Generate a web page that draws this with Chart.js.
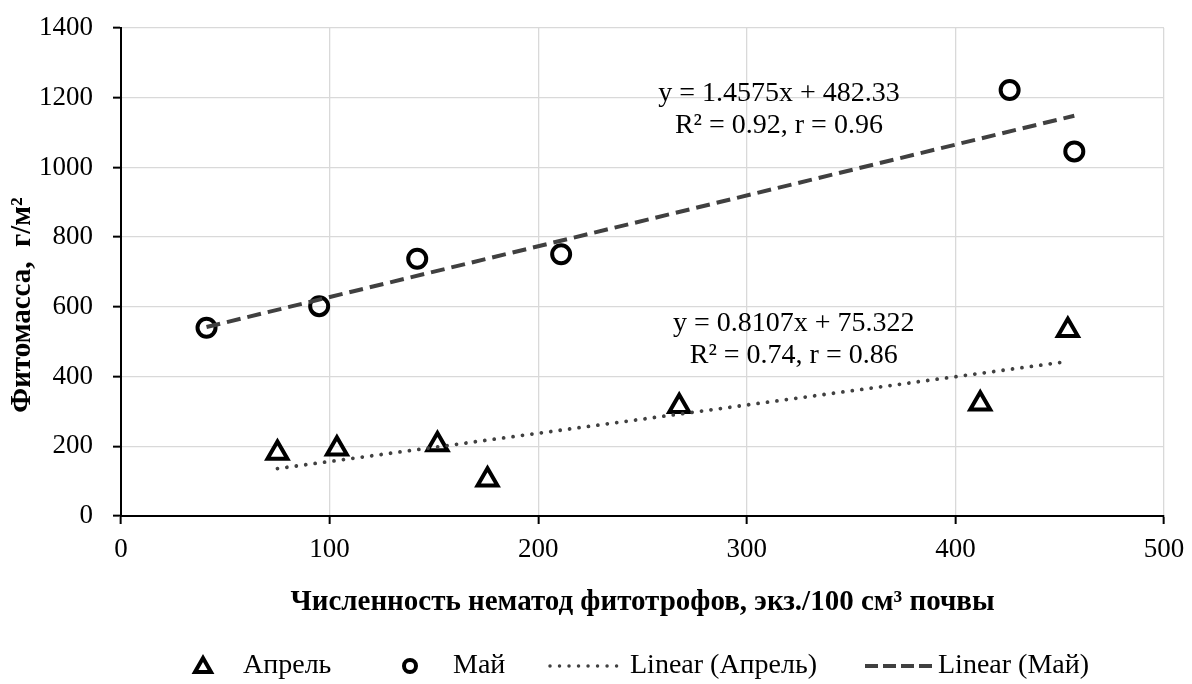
<!DOCTYPE html>
<html>
<head>
<meta charset="utf-8">
<script src="https://cdn.jsdelivr.net/npm/chart.js@4.4.0/dist/chart.umd.min.js"></script>
<style>
  html, body { margin: 0; padding: 0; background: #fff; }
  #wrap { width: 1192px; height: 684px; }
</style>
</head>
<body>
<div id="wrap"><canvas id="chart" width="1192" height="684"></canvas></div>
<script>
// Апрель / Май points (numbers of nematodes vs phytomass)
var aprilX = [75, 103.5, 151.7, 175.7, 267.6, 411.9, 453.9];
var aprilY = [181, 193, 205, 104, 315, 322, 533];
var mayX = [41, 95, 142, 211, 426, 457];
var mayY = [540, 602, 738, 751, 1222, 1046];

// trendline coefficients as printed on the chart
var aprilFit = [0.8107, 75.322];
var mayFit = [1.4575, 482.33];
var aprilEq = ['y = 0.8107x + 75.322', 'R\u00b2 = 0.74, r = 0.86'];
var mayEq = ['y = 1.4575x + 482.33', 'R\u00b2 = 0.92, r = 0.96'];

var xTicks = [0, 100, 200, 300, 400, 500];
var yTicks = [0, 200, 400, 600, 800, 1000, 1200, 1400];

var FONT = "'Liberation Serif', 'Times New Roman', serif";
var lineColor = '#404040';

function points(xs, ys) {
    return xs.map(function (x, i) { return {x: x, y: ys[i]}; });
}
function trend(xs, fit) {
    var lo = Math.min.apply(null, xs), hi = Math.max.apply(null, xs);
    return [{x: lo, y: fit[0] * lo + fit[1]}, {x: hi, y: fit[0] * hi + fit[1]}];
}

// equation labels + y title + legend, drawn by hand
var extras = {
    id: 'extras',
    afterDraw: function (chart) {
        var ctx = chart.ctx;
        var xs = chart.scales.x, ys = chart.scales.y;
        ctx.save();
        ctx.fillStyle = '#000';
        ctx.font = '28px ' + FONT;
        ctx.textAlign = 'center';
        ctx.textBaseline = 'middle';
        ctx.fillText(mayEq[0], xs.getPixelForValue(315.4), ys.getPixelForValue(1212));
        ctx.fillText(mayEq[1], xs.getPixelForValue(315.4), ys.getPixelForValue(1120));
        ctx.fillText(aprilEq[0], xs.getPixelForValue(322.5), ys.getPixelForValue(553));
        ctx.fillText(aprilEq[1], xs.getPixelForValue(322.5), ys.getPixelForValue(461));

        // y axis title
        ctx.save();
        ctx.translate(23, 305);
        ctx.rotate(-Math.PI / 2);
        ctx.font = 'bold 29px ' + FONT;
        ctx.fillText('Фитомасса,  г/м\u00b2', 0, 0);
        ctx.restore();

        // legend
        var ly = 666;
        ctx.strokeStyle = '#000';
        ctx.lineWidth = 4;
        ctx.lineJoin = 'miter';
        ctx.beginPath();
        ctx.moveTo(203, ly - 8);
        ctx.lineTo(211, ly + 6);
        ctx.lineTo(195, ly + 6);
        ctx.closePath();
        ctx.stroke();
        ctx.beginPath();
        ctx.arc(410, ly, 6, 0, Math.PI * 2);
        ctx.stroke();

        ctx.strokeStyle = lineColor;
        ctx.lineWidth = 3.5;
        ctx.lineCap = 'round';
        ctx.setLineDash([0.01, 9.5]);
        ctx.beginPath();
        ctx.moveTo(550, ly);
        ctx.lineTo(623, ly);
        ctx.stroke();
        ctx.lineCap = 'butt';
        ctx.lineWidth = 4;
        ctx.setLineDash([13, 5]);
        ctx.beginPath();
        ctx.moveTo(865, ly);
        ctx.lineTo(933, ly);
        ctx.stroke();
        ctx.setLineDash([]);

        ctx.font = '28px ' + FONT;
        ctx.textAlign = 'left';
        ctx.fillText('Апрель', 243, ly);
        ctx.fillText('Май', 453, ly);
        ctx.fillText('Linear (Апрель)', 630, ly);
        ctx.fillText('Linear (Май)', 938, ly);
        ctx.restore();
    }
};

var ctx = document.getElementById('chart').getContext('2d');
var chart = new Chart(ctx, {
    type: 'scatter',
    data: {
        datasets: [{
            label: 'Linear (Апрель)',
            type: 'line',
            data: trend(aprilX, aprilFit),
            borderColor: lineColor,
            borderWidth: 3.8,
            borderDash: [0.01, 9.5],
            borderCapStyle: 'round',
            pointRadius: 0,
            fill: false
        }, {
            label: 'Linear (Май)',
            type: 'line',
            data: trend(mayX, mayFit),
            borderColor: lineColor,
            borderWidth: 4,
            borderDash: [14, 7],
            pointRadius: 0,
            fill: false
        }, {
            label: 'Апрель',
            data: points(aprilX, aprilY),
            pointStyle: 'triangle',
            pointRadius: 11.5,
            pointBorderWidth: 4,
            borderColor: '#000',
            backgroundColor: 'rgba(0,0,0,0)'
        }, {
            label: 'Май',
            data: points(mayX, mayY),
            pointStyle: 'circle',
            pointRadius: 9,
            pointBorderWidth: 4,
            borderColor: '#000',
            backgroundColor: 'rgba(0,0,0,0)'
        }]
    },
    options: {
        responsive: false,
        animation: false,
        layout: { padding: { top: 28, right: 28, bottom: 0, left: 0 } },
        plugins: {
            legend: { display: false },
            tooltip: { enabled: false }
        },
        scales: {
            x: {
                type: 'linear',
                min: 0,
                max: 500,
                afterFit: function (s) { s.height = 168; s.paddingLeft = 0; s.paddingRight = 0; },
                afterBuildTicks: function (s) { s.ticks = xTicks.map(function (v) { return {value: v}; }); },
                grid: { color: '#d9d9d9', lineWidth: 1.3, tickColor: '#000', tickLength: 8, tickWidth: 2 },
                border: { color: '#000', width: 2 },
                ticks: {
                    color: '#000', font: { family: FONT, size: 27 }, padding: 10, maxRotation: 0,
                    callback: function (v) { return String(v); }
                },
                title: {
                    display: true,
                    text: 'Численность нематод фитотрофов, экз./100 см\u00b3 почвы',
                    color: '#000',
                    font: { family: FONT, size: 29, weight: 'bold' },
                    padding: { top: 0, bottom: 64 }
                }
            },
            y: {
                min: 0,
                max: 1400,
                afterFit: function (s) { s.width = 121; s.paddingTop = 0; s.paddingBottom = 0; },
                afterBuildTicks: function (s) { s.ticks = yTicks.map(function (v) { return {value: v}; }); },
                grid: { color: '#d9d9d9', lineWidth: 1.3, tickColor: '#000', tickLength: 8, tickWidth: 2 },
                border: { color: '#000', width: 2 },
                ticks: {
                    color: '#000', font: { family: FONT, size: 27 }, padding: 20,
                    callback: function (v) { return String(v); }
                }
            }
        }
    },
    plugins: [extras]
});
</script>
</body>
</html>
